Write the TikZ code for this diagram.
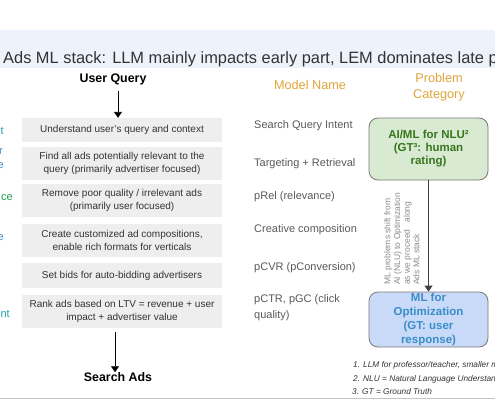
\documentclass[tikz,border=0pt]{standalone}
\usepackage{fontspec}
\setmainfont{Liberation Sans}
\usetikzlibrary{arrows.meta}
\definecolor{bandcol}{HTML}{EEF2FB}
\definecolor{boxgray}{HTML}{EEEEEE}
\definecolor{textdark}{HTML}{333333}
\definecolor{namegray}{HTML}{595959}
\definecolor{orangeh}{HTML}{E0A33A}
\definecolor{greenfill}{HTML}{D9EAD3}
\definecolor{greentext}{HTML}{38761D}
\definecolor{bluefill}{HTML}{C9DAF8}
\definecolor{bluetext}{HTML}{3A8DC8}
\definecolor{boxline}{HTML}{777777}
\definecolor{rotgray}{HTML}{8A8A8A}
\definecolor{linecol}{HTML}{C4C4C4}
\definecolor{tealc}{HTML}{1F9FB0}
\definecolor{bluec}{HTML}{2E8BD0}
\definecolor{greenc}{HTML}{1E9E50}
\begin{document}
\begin{tikzpicture}[x=1pt,y=-1pt,
  stepbox/.style={fill=boxgray, minimum width=200pt, inner sep=0pt, align=center,
    text=textdark, font=\fontsize{10}{12.5}\selectfont},
  modelname/.style={anchor=west, inner sep=0pt, align=left, text=namegray,
    font=\fontsize{11}{16}\selectfont},
  header/.style={inner sep=0pt, align=center, text=orangeh,
    font=\fontsize{12.7}{16}\selectfont},
  endlabel/.style={inner sep=0pt, text=black, font=\bfseries\fontsize{12.4}{15}\selectfont},
  catbox/.style={draw=boxline, line width=0.8pt, rounded corners=9pt, minimum width=119pt,
    inner sep=0pt, align=center},
  arr/.style={-{Triangle[width=8pt,length=6pt]}, line width=0.9pt},
  edge/.style={inner sep=0pt, font=\fontsize{11}{13}\selectfont, anchor=base east},
  foot/.style={inner sep=0pt, anchor=base west, text=textdark, font=\itshape\fontsize{8.3}{10}\selectfont}
]
\useasboundingbox (0,0) rectangle (495,400);
\clip (0,0) rectangle (495,400);
% title band
\fill[bandcol] (0,30) rectangle (495,68);
\node[inner sep=0pt, anchor=base west, text=textdark, font=\fontsize{16.4}{19}\selectfont] (title) at (3,63)
  {Ads ML stack: LLM mainly impacts early part, LEM dominates late part};
% partial texts at left edge
\node[edge, text=tealc] (e1) at (4,134) {t};
\node[edge, text=bluec] (e2) at (3,154) {r};
\node[edge, text=bluec] (e3) at (4,168) {e};
\node[edge, text=greenc] (e4) at (13,200) {ce};
\node[edge, text=bluec] (e5) at (4,240) {e};
\node[edge, text=tealc] (e6) at (10,317) {nt};
% left column
\node[endlabel] (uq) at (113,79) {User Query};
\node[stepbox, minimum height=24pt] (b1) at (122,130) {Understand user's query and context};
\node[stepbox, minimum height=33pt] (b2) at (122,163.5) {Find all ads potentially relevant to the\\query (primarily advertiser focused)};
\node[stepbox, minimum height=33pt] (b3) at (122,200.5) {Remove poor quality / irrelevant ads\\(primarily user focused)};
\node[stepbox, minimum height=33pt] (b4) at (122,240.5) {Create customized ad compositions,\\enable rich formats for verticals};
\node[stepbox, minimum height=25pt] (b5) at (122,275.5) {Set bids for auto-bidding advertisers};
\node[stepbox, minimum height=33pt] (b6) at (122,311.5) {Rank ads based on LTV = revenue + user\\impact + advertiser value};
\node[endlabel] (sa) at (118,377) {Search Ads};
\coordinate (a1) at (118,91);
\coordinate (a2) at (115,332);
\draw[arr] (a1) -- (a1 |- b1.north);
\draw[arr] (a2) -- (a2 |- sa.north);
% headers
\node[header] (hm) at (310,85) {Model Name};
\node[header] (hp) at (439,87) {Problem\\Category};
% model names
\node[modelname] (m1) at (254,126) {Search Query Intent};
\node[modelname] (m2) at (254,164) {Targeting + Retrieval};
\node[modelname] (m3) at (254,197) {pRel (relevance)};
\node[modelname] (m4) at (254,230) {Creative composition};
\node[modelname] (m5) at (254,268) {pCVR (pConversion)};
\node[modelname] (m6) at (254,308) {pCTR, pGC (click\\quality)};
% category boxes
\node[catbox, fill=greenfill, minimum height=62pt, text=greentext,
  font=\bfseries\fontsize{11.5}{13}\selectfont] (nlu) at (428.5,149)
  {AI/ML for NLU²\\(GT³: human\\rating)};
\node[catbox, fill=bluefill, minimum height=55pt, text=bluetext,
  font=\bfseries\fontsize{11.5}{14}\selectfont] (opt) at (428.5,319.5)
  {ML for\\Optimization\\(GT: user\\response)};
\draw[arr, draw=black!75] (nlu.south) -- (opt.north);
\node[rotate=90, anchor=north west, inner sep=0pt, align=left, text=rotgray,
  font=\fontsize{8.5}{9.7}\selectfont] (shift) at (384,285)
  {ML problems shift from\\AI (NLU) to Optimization\\as we proceed\hspace{7pt}along\\Ads ML stack};
% footnotes
\node[foot] (f1) at (353,367) {\makebox[10pt][l]{1.}LLM for professor/teacher, smaller models for students};
\node[foot] (f2) at (353,381) {\makebox[10pt][l]{2.}NLU = Natural Language Understanding};
\node[foot] (f3) at (352,394) {3. GT = Ground Truth};
% bottom rule
\draw[linecol, line width=1.2pt] (0,398.5) -- (495,398.5);
\end{tikzpicture}
\end{document}
